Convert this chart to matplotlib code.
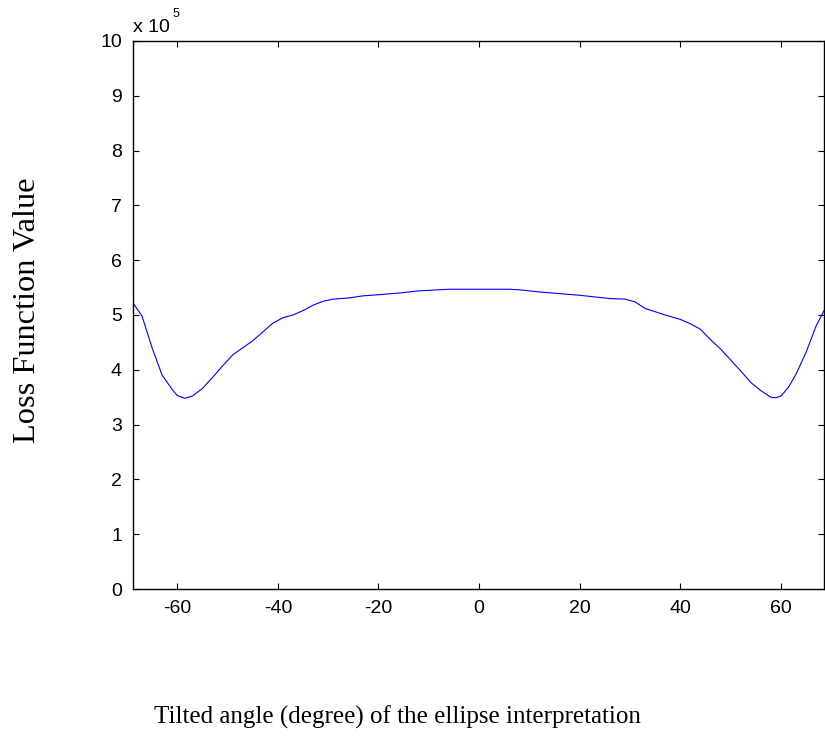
import matplotlib
matplotlib.use("Agg")
import matplotlib.pyplot as plt
from matplotlib.ticker import FuncFormatter
import numpy as np

# Data (loss values in units of 1e5)
angle = [-68.8, -67, -65, -63, -61, -60, -58.5, -57, -55, -53, -51, -49, -47, -45,
         -43, -41, -39, -37, -35, -33, -31, -29, -26, -23, -20, -16, -12, -8, -6,
         0, 6, 8, 12, 16, 20, 23, 26, 29, 31, 33, 35, 37, 40, 42, 44, 46, 48, 50,
         52, 54, 56, 58, 59, 60, 61.5, 63, 65, 67, 68.8]
loss_e5 = [5.22, 4.98, 4.40, 3.90, 3.64, 3.53, 3.48, 3.52, 3.66, 3.86, 4.07, 4.27, 4.40, 4.53,
           4.69, 4.85, 4.95, 5.00, 5.08, 5.18, 5.25, 5.29, 5.31, 5.35, 5.37, 5.40, 5.44, 5.46, 5.47,
           5.47, 5.47, 5.46, 5.42, 5.39, 5.36, 5.33, 5.30, 5.29, 5.24, 5.12, 5.06, 5.00, 4.92, 4.84,
           4.74, 4.55, 4.38, 4.18, 3.98, 3.77, 3.62, 3.50, 3.49, 3.52, 3.68, 3.92, 4.32, 4.80, 5.12]
xticks = [-60, -40, -20, 0, 20, 40, 60]
yticks = [0, 1, 2, 3, 4, 5, 6, 7, 8, 9, 10]
scale = 1e5

fig = plt.figure(figsize=(8.25, 7.38), dpi=100)
ax = fig.add_axes([133/825, 1-589/738, 1 - 133/825 - 0.001, (589-41)/738])

ax.plot(angle, np.array(loss_e5) * scale, color=(0, 0, 1), linewidth=0.8)
ax.set_xlim(-68.8, 68.6)
ax.set_ylim(0, 10 * scale)
ax.set_xticks(xticks)
ax.set_yticks([v * scale for v in yticks])
ax.yaxis.set_major_formatter(FuncFormatter(lambda v, p: f"{v/scale:g}"))
ax.xaxis.set_major_formatter(FuncFormatter(lambda v, p: f"{v:g}"))

for s in ax.spines.values():
    s.set_linewidth(1.0)
ax.tick_params(direction="in", length=4, width=0.8, top=True, right=True,
               labelsize=14, pad=8)
for lab in ax.get_xticklabels() + ax.get_yticklabels():
    lab.set_family("Liberation Sans")

fig.text(133/825, 1-32/738, "x 10", fontsize=14, family="Liberation Sans",
         ha="left", va="baseline")
fig.text(173/825, 1-17/738, "5", fontsize=9, family="Liberation Sans",
         ha="left", va="baseline")

fig.text(28/825, 1-310/738, "Loss Function Value", rotation=90, fontsize=23.3,
         family="Liberation Serif", ha="center", va="center")
fig.text(397/825, 1-724/738, "Tilted angle (degree) of the ellipse interpretation",
         fontsize=18, family="Liberation Serif", ha="center", va="baseline")

fig.savefig("out.png", dpi=100)
